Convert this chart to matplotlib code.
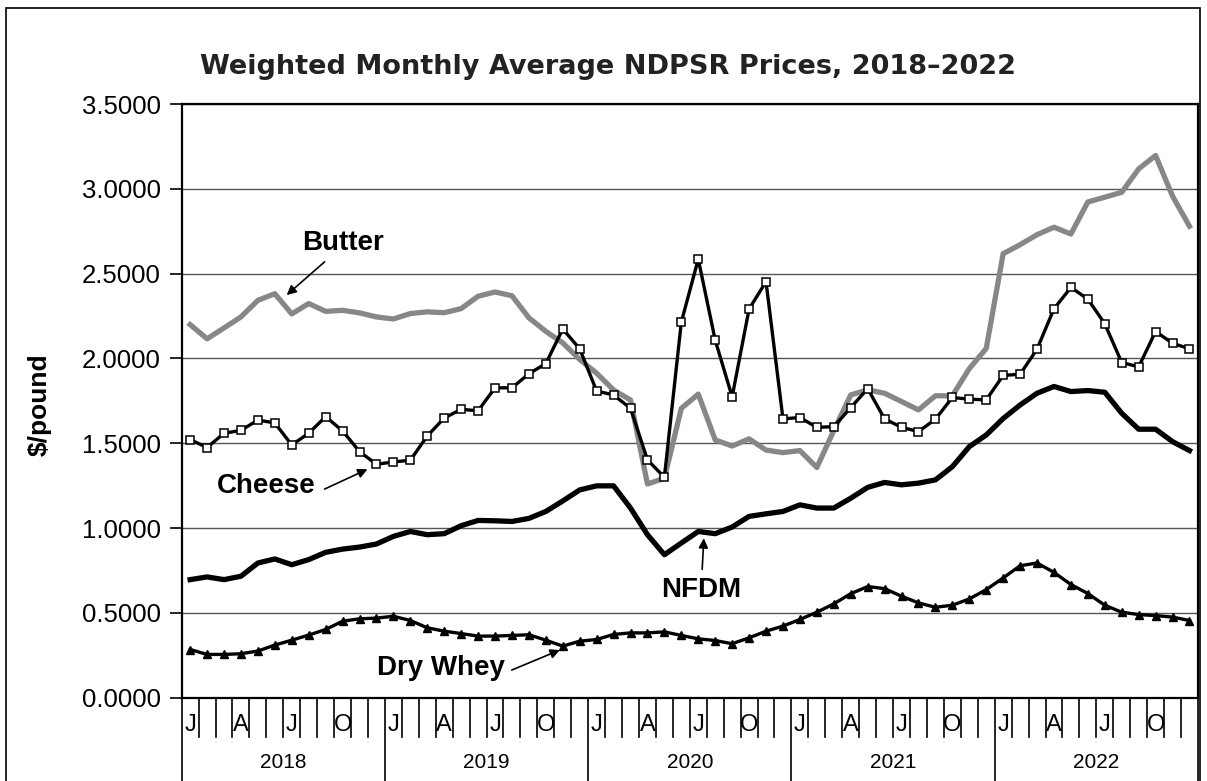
import numpy as np
import matplotlib.pyplot as plt
from matplotlib.patches import Rectangle
from matplotlib.ticker import FormatStrFormatter

plt.rcParams['font.family'] = ['Liberation Sans', 'DejaVu Sans']

# monthly prices, Jan 2018 .. Dec 2022 ($/pound)
butter = [2.200, 2.116, 2.180, 2.245, 2.343, 2.382, 2.263, 2.324, 2.278, 2.284, 2.269, 2.245,
          2.233, 2.265, 2.275, 2.270, 2.294, 2.367, 2.392, 2.370, 2.240, 2.160, 2.092, 1.994,
          1.913, 1.814, 1.755, 1.260, 1.294, 1.706, 1.790, 1.520, 1.484, 1.526, 1.460, 1.445,
          1.457, 1.357, 1.575, 1.785, 1.815, 1.795, 1.746, 1.697, 1.780, 1.780, 1.940, 2.059,
          2.618, 2.671, 2.730, 2.774, 2.734, 2.923, 2.951, 2.980, 3.118, 3.197, 2.957, 2.780]
cheese = [1.522, 1.475, 1.559, 1.576, 1.637, 1.620, 1.490, 1.559, 1.657, 1.573, 1.451, 1.376,
          1.390, 1.400, 1.543, 1.649, 1.700, 1.692, 1.827, 1.827, 1.910, 1.970, 2.174, 2.057,
          1.808, 1.785, 1.706, 1.402, 1.300, 2.215, 2.586, 2.108, 1.774, 2.292, 2.453, 1.644,
          1.652, 1.594, 1.598, 1.710, 1.822, 1.644, 1.594, 1.569, 1.642, 1.770, 1.760, 1.756,
          1.900, 1.907, 2.055, 2.293, 2.419, 2.350, 2.205, 1.976, 1.951, 2.159, 2.090, 2.057]
nfdm = [0.696, 0.712, 0.696, 0.716, 0.794, 0.818, 0.784, 0.814, 0.857, 0.876, 0.888, 0.906,
        0.951, 0.980, 0.961, 0.967, 1.014, 1.045, 1.043, 1.039, 1.057, 1.098, 1.160, 1.225,
        1.249, 1.249, 1.118, 0.961, 0.843, 0.912, 0.980, 0.967, 1.006, 1.069, 1.084, 1.098,
        1.137, 1.118, 1.118, 1.176, 1.240, 1.269, 1.255, 1.265, 1.284, 1.362, 1.480, 1.549,
        1.646, 1.726, 1.795, 1.835, 1.805, 1.811, 1.801, 1.677, 1.583, 1.583, 1.510, 1.457]
whey = [0.284, 0.255, 0.255, 0.259, 0.275, 0.310, 0.339, 0.369, 0.402, 0.451, 0.465, 0.469,
        0.480, 0.455, 0.412, 0.392, 0.378, 0.363, 0.363, 0.367, 0.371, 0.339, 0.304, 0.333,
        0.343, 0.373, 0.382, 0.382, 0.388, 0.367, 0.347, 0.337, 0.318, 0.353, 0.392, 0.422,
        0.461, 0.504, 0.553, 0.613, 0.655, 0.643, 0.598, 0.559, 0.533, 0.545, 0.582, 0.637,
        0.706, 0.778, 0.794, 0.739, 0.667, 0.614, 0.545, 0.504, 0.490, 0.484, 0.475, 0.455]
years = ['2018', '2019', '2020', '2021', '2022']
month_letters = ['J', '', '', 'A', '', '', 'J', '', '', 'O', '', '']

n = len(butter)
x = np.arange(n)

fig = plt.figure(figsize=(12.07, 7.81), dpi=100)
ax = fig.add_axes([0.1505, 0.1067, 0.842, 0.760])

ax.plot(x, butter, color='#878787', lw=3.8, zorder=3, solid_joinstyle='round')
ax.plot(x, cheese, color='black', lw=2.4, marker='s', ms=5.5, mfc='white', mec='black',
        mew=1.1, zorder=4)
ax.plot(x, nfdm, color='black', lw=3.8, zorder=4, solid_joinstyle='round')
ax.plot(x, whey, color='black', lw=2.4, marker='^', ms=6, mfc='black', mec='black', zorder=4)

ax.set_xlim(-0.5, n - 0.5)
ax.set_ylim(0, 3.5)
ax.set_yticks(np.arange(0, 3.51, 0.5))
ax.yaxis.set_major_formatter(FormatStrFormatter('%.4f'))
ax.tick_params(axis='y', labelsize=18.5, length=9, width=1.2, direction='out', pad=6)
ax.grid(axis='y', color='#555555', lw=1.0, zorder=1)
ax.set_xticks([])
for s in ax.spines.values():
    s.set_linewidth(1.6)

# month / year axis below the plot
trans = ax.get_xaxis_transform()
for i in range(n + 1):
    b = i - 0.5
    bottom = -0.16 if i % 12 == 0 else -0.066
    ax.plot([b, b], [0, bottom], color='black', lw=1.2, transform=trans, clip_on=False)
for i in range(n):
    lab = month_letters[i % 12]
    if lab:
        ax.text(i, -0.046, lab, transform=trans, ha='center', va='center', fontsize=17)
for k, yr in enumerate(years):
    ax.text(12 * k + 5.5, -0.11, yr, transform=trans, ha='center', va='center', fontsize=15)

# series labels
lab_kw = dict(fontsize=20, fontweight='bold', ha='center', va='center')
arr_kw = dict(arrowstyle='-|>', color='black', lw=1.2, mutation_scale=14, shrinkA=0, shrinkB=0)
ax.text(9.0, 2.68, 'Butter', **lab_kw)
ax.annotate('', xy=(5.7, 2.374), xytext=(7.94, 2.57), arrowprops=arr_kw)
ax.text(4.5, 1.25, 'Cheese', **lab_kw)
ax.annotate('', xy=(10.47, 1.347), xytext=(7.94, 1.23), arrowprops=arr_kw)
ax.text(30.2, 0.635, 'NFDM', **lab_kw)
ax.annotate('', xy=(30.33, 0.94), xytext=(30.23, 0.757), arrowprops=arr_kw)
ax.text(14.8, 0.175, 'Dry Whey', **lab_kw)
ax.annotate('', xy=(21.83, 0.281), xytext=(18.99, 0.163), arrowprops=arr_kw)

fig.text(40 / 1207, 1 - 405 / 781, '$/pound', rotation=90, ha='center', va='center',
         fontsize=19, fontweight='bold')
fig.text(608 / 1207, 1 - 67 / 781, 'Weighted Monthly Average NDPSR Prices, 2018\u20132022',
         ha='center', va='center', fontsize=19.5, fontweight='bold', family='DejaVu Sans',
         color='#222222')

# chart-area border
fig.patches.append(Rectangle((6 / 1207, -0.05), (1200 - 6) / 1207, 1.05 - 8 / 781,
                             transform=fig.transFigure, fill=False, ec='black', lw=1.2))

fig.savefig('out.png', dpi=100, facecolor='white')
